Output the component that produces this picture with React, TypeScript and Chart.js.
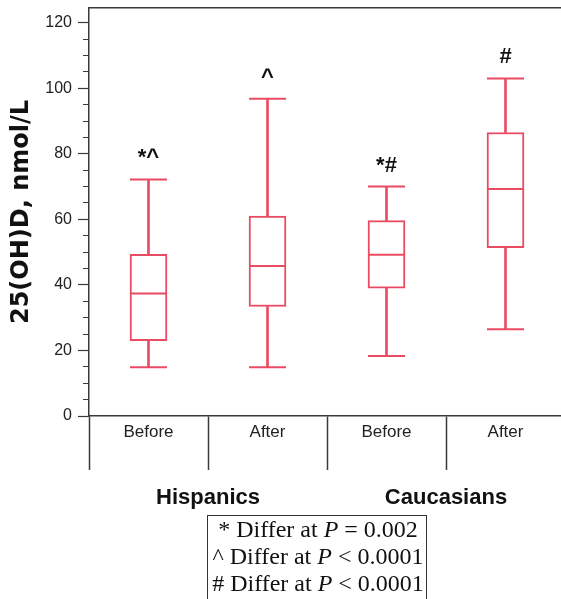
import React, { useEffect, useRef } from 'react';
import { Chart, registerables } from 'chart.js';

Chart.register(...registerables);

// ---- data ----
const categories = ['Before', 'After', 'Before', 'After'];
const groups = ['Hispanics', 'Caucasians'];
const whiskerLow = [14.9, 14.9, 18.3, 26.5];
const quartile1 = [23.0, 33.4, 39.0, 51.4];
const medians = [37.4, 45.8, 49.2, 69.3];
const quartile3 = [49.3, 61.0, 59.6, 86.5];
const whiskerHigh = [72.2, 96.8, 70.0, 103.0];
const significance = ['*^', '^', '*#', '#'];
const yAxisTitle = '25(OH)D, nmol/L';
const footnotes: string[][] = [
  ['* Differ at ', 'P', ' = 0.002'],
  ['^ Differ at ', 'P', ' < 0.0001'],
  ['# Differ at ', 'P', ' < 0.0001'],
];

const RED = '#ea4b62';
const AXIS = '#3a3a3a';
const SANS = 'Arial, "Liberation Sans", Helvetica, sans-serif';
const SERIF = '"Liberation Serif", "Times New Roman", Times, serif';

const zeroPad = (s: any) => {
  s.paddingTop = 0;
  s.paddingBottom = 0;
  s.paddingLeft = 0;
  s.paddingRight = 0;
};

const annotationPlugin = {
  id: 'sigMarks',
  afterDatasetsDraw(chart: any) {
    const { ctx } = chart;
    const xs = chart.scales.x;
    const ys = chart.scales.y;
    ctx.save();
    ctx.font = `bold 22px ${SANS}`;
    ctx.fillStyle = '#111';
    ctx.textAlign = 'center';
    ctx.textBaseline = 'alphabetic';
    significance.forEach((s, i) => {
      const x = xs.getPixelForValue(i);
      const y = ys.getPixelForValue(whiskerHigh[i]) - 15;
      ctx.fillText(s, x, y);
    });
    ctx.restore();
  },
};

const footnotePlugin = {
  id: 'footnoteBox',
  afterDraw(chart: any) {
    const { ctx } = chart;
    ctx.save();
    ctx.strokeStyle = '#333';
    ctx.lineWidth = 1;
    ctx.strokeRect(207.5, 515.5, 219, 100);
    ctx.fillStyle = '#111';
    ctx.textBaseline = 'alphabetic';
    ctx.textAlign = 'left';
    const cx = 318;
    footnotes.forEach((parts, li) => {
      const fonts = parts.map((_, k) => (k === 1 ? `italic 24px ${SERIF}` : `24px ${SERIF}`));
      let total = 0;
      const widths = parts.map((p, k) => {
        ctx.font = fonts[k];
        const w = ctx.measureText(p).width;
        total += w;
        return w;
      });
      let x = cx - total / 2;
      const y = 537 + li * 27;
      parts.forEach((p, k) => {
        ctx.font = fonts[k];
        ctx.fillText(p, x, y);
        x += widths[k];
      });
    });
    ctx.restore();
  },
};

export default function App() {
  const canvasRef = useRef<HTMLCanvasElement | null>(null);

  useEffect(() => {
    if (!canvasRef.current) return;
    Chart.defaults.font.family = SANS;
    const capDataset = (label: string, data: number[]) => ({
      type: 'line',
      label,
      data,
      xAxisID: 'x',
      yAxisID: 'y',
      showLine: false,
      pointStyle: 'line',
      pointRadius: 18.5,
      pointHoverRadius: 18.5,
      pointBorderWidth: 2,
      pointBorderColor: RED,
      borderColor: RED,
      clip: false,
      order: 1,
    });
    const chart = new Chart(canvasRef.current, {
      type: 'bar',
      data: {
        labels: categories,
        datasets: [
          capDataset('Median', medians),
          capDataset('Lower cap', whiskerLow),
          capDataset('Upper cap', whiskerHigh),
          {
            type: 'bar',
            label: 'Lower whisker',
            data: categories.map((_, i) => [whiskerLow[i], quartile1[i]]),
            xAxisID: 'x',
            yAxisID: 'y',
            backgroundColor: RED,
            borderWidth: 0,
            barThickness: 2,
            grouped: false,
            order: 2,
          },
          {
            type: 'bar',
            label: 'Upper whisker',
            data: categories.map((_, i) => [quartile3[i], whiskerHigh[i]]),
            xAxisID: 'x',
            yAxisID: 'y',
            backgroundColor: RED,
            borderWidth: 0,
            barThickness: 2,
            grouped: false,
            order: 2,
          },
          {
            type: 'bar',
            label: 'IQR',
            data: categories.map((_, i) => [quartile1[i], quartile3[i]]),
            xAxisID: 'x',
            yAxisID: 'y',
            backgroundColor: '#ffffff',
            borderColor: RED,
            borderWidth: 2,
            borderSkipped: false,
            barThickness: 37,
            grouped: false,
            order: 3,
          },
        ] as any,
      },
      options: {
        responsive: false,
        animation: false,
        events: [],
        layout: { autoPadding: false, padding: { top: 8, left: 0, right: 1, bottom: 89 } },
        plugins: {
          legend: { display: false },
          tooltip: { enabled: false },
        },
        scales: {
          x: {
            type: 'category',
            position: 'bottom',
            offset: true,
            grid: {
              offset: true,
              drawOnChartArea: false,
              drawTicks: true,
              tickLength: 54,
              tickColor: AXIS,
              tickWidth: 1.5,
              color: AXIS,
            },
            border: { display: true, color: AXIS, width: 1.5 },
            ticks: {
              padding: -48,
              autoSkip: false,
              maxRotation: 0,
              color: '#222',
              font: { size: 17, family: SANS },
            },
            afterFit: (s: any) => {
              s.height = 54;
              zeroPad(s);
            },
          },
          x2: {
            type: 'category',
            position: 'bottom',
            labels: groups,
            offset: true,
            grid: { display: false, drawTicks: false },
            border: { display: false },
            ticks: {
              padding: 15,
              autoSkip: false,
              maxRotation: 0,
              color: '#111',
              font: { size: 22, weight: 'bold', family: SANS },
            },
            afterFit: (s: any) => {
              s.height = 40;
              zeroPad(s);
            },
          },
          xTop: {
            type: 'category',
            position: 'top',
            labels: [''],
            grid: { display: false, drawTicks: false },
            ticks: { display: false },
            border: { display: true, color: AXIS, width: 1.5 },
            afterFit: (s: any) => {
              s.height = 0;
              zeroPad(s);
            },
          },
          y: {
            type: 'linear',
            position: 'left',
            min: 0,
            max: 124.5,
            grid: {
              drawOnChartArea: false,
              drawTicks: true,
              tickLength: 11,
              tickColor: AXIS,
              tickWidth: 1.2,
              tickBorderDash: (ctx: any) =>
                ctx.tick && ctx.tick.value % 20 !== 0 ? [0, 5, 20, 0] : [],
            },
            border: { display: true, color: AXIS, width: 1.5 },
            ticks: {
              stepSize: 5,
              includeBounds: false,
              autoSkip: false,
              padding: 6,
              color: '#222',
              font: { size: 16, family: SANS },
              callback: (v: any) => (Number(v) % 20 === 0 ? String(v) : ''),
            },
            title: {
              display: true,
              text: yAxisTitle,
              color: '#111',
              font: { size: 24, weight: 'bold', family: '"DejaVu Sans", sans-serif' },
              padding: { top: 7, bottom: 0 },
            },
            afterFit: (s: any) => {
              s.width = 89;
              zeroPad(s);
            },
          },
        } as any,
      },
      plugins: [annotationPlugin, footnotePlugin],
    });
    return () => chart.destroy();
  }, []);

  return (
    <div
      style={{
        position: 'fixed',
        left: 0,
        top: 0,
        width: 561,
        height: 599,
        overflow: 'hidden',
        background: '#fff',
      }}
    >
      <canvas ref={canvasRef} width={566} height={599} style={{ width: 566, height: 599, display: 'block' }} />
    </div>
  );
}
